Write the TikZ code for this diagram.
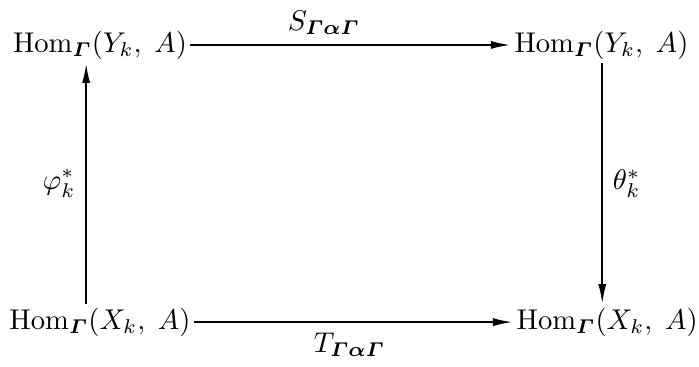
\documentclass[tikz,border=0pt]{standalone}
\usepackage{amsmath,amssymb,amsfonts}
\usepackage{xcolor}
\usepackage{tikz}
\usetikzlibrary{shapes,arrows,arrows.meta,positioning}

\newcommand{\bG}{\boldsymbol{\varGamma}}
\newcommand{\HomG}[1]{$\mathrm{Hom}_{\bG}(#1_k,\;A)$}

\begin{document}
\begin{tikzpicture}[node distance=2cm, auto, >={Latex[length=2.5mm,width=1mm]}, hom/.style={inner sep=1pt}]
    \useasboundingbox (-1.23,0.553) rectangle (7.37,-3.96);
    \node [hom] (hyl) {\HomG{Y}};
    \node [hom, right of=hyl, node distance=6.17cm] (hyr) {\HomG{Y}};
    \node [hom, below of=hyl, node distance=3.41cm] (hxl) {\HomG{X}};
    \node [hom, right of=hxl, node distance=6.24cm] (hxr) {\HomG{X}};
    
    \draw [->, thick] (hyl) -- node [above, xshift=-0.33cm] {$S_{\bG\boldsymbol{\alpha}\bG}$} (hyr);
    \draw [->, thick] (hxl) -- node [below, xshift=-0.05cm] {$T_{\bG\boldsymbol{\alpha}\bG}$} (hxr);
    \draw [->, thick] ([xshift=-0.17cm]hxl.north) -- node {$\varphi_k^*$} ([xshift=-0.17cm]hxl.north |- hyl.south);
    \draw [->, thick] ([xshift=0.01cm]hyr.south) -- node {$\theta_k^*$} ([xshift=0.01cm]hyr.south |- hxr.north);
\end{tikzpicture}
\end{document}
